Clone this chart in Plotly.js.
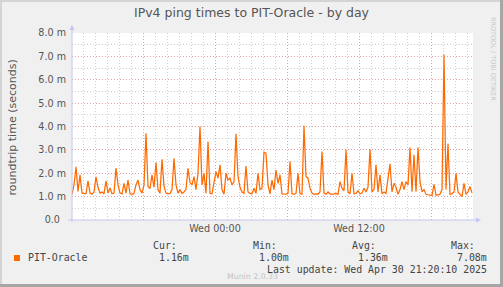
<!DOCTYPE html>
<html>
<head>
<meta charset="utf-8">
<script src="https://cdn.plot.ly/plotly-3.0.1.min.js"></script>
<style>
  html, body { margin: 0; padding: 0; background: #f0f0f0; }
  #wrap { position: relative; width: 503px; height: 287px; overflow: hidden; }
  #chart { width: 503px; height: 287px; }
  .edge { position: absolute; pointer-events: none; }
</style>
</head>
<body>
<div id="wrap">
  <div id="chart"></div>
  <div class="edge" style="left:0;top:0;width:503px;height:2px;background:#d4d4d4;"></div>
  <div class="edge" style="left:0;top:0;width:2px;height:287px;background:#d4d4d4;"></div>
  <div class="edge" style="right:0;top:0;width:3px;height:287px;background:#a6a6a6;"></div>
  <div class="edge" style="left:0;bottom:0;width:503px;height:3px;background:#a6a6a6;"></div>
</div>
<script>
// ---- data (hours relative to Wed 00:00, values in milliseconds) ----
const seriesName = "PIT-Oracle";
const sampleStartHour = -11.917;
const sampleStepHours = 1 / 6;
const pingMs = [
  1.10, 1.50, 2.28, 1.22, 1.93, 1.15, 1.14, 1.12, 1.67, 1.15,
  1.10, 1.20, 1.85, 1.40, 1.15, 1.20, 1.12, 1.67, 1.15, 1.37,
  1.12, 1.15, 2.22, 1.50, 1.15, 1.12, 1.57, 1.15, 1.71, 1.12,
  1.10, 1.14, 1.50, 1.71, 1.30, 1.15, 1.50, 3.71, 1.43, 1.35,
  1.93, 1.40, 2.46, 1.30, 1.15, 2.60, 1.45, 1.15, 1.12, 1.14,
  1.30, 2.64, 1.50, 1.15, 1.30, 1.14, 1.20, 1.30, 2.21, 1.60,
  1.50, 1.86, 1.30, 2.00, 4.00, 1.50, 2.00, 1.14, 3.36, 1.14,
  1.12, 1.64, 2.07, 1.79, 2.36, 1.30, 1.10, 2.00, 1.71, 1.79,
  1.50, 1.64, 3.69, 1.86, 1.40, 1.20, 1.15, 2.31, 1.20, 1.14,
  1.12, 1.36, 1.14, 2.00, 1.30, 1.36, 2.90, 2.86, 1.50, 1.12,
  1.71, 1.30, 2.14, 1.57, 1.93, 1.12, 1.10, 1.11, 1.14, 2.50,
  1.12, 1.10, 1.14, 2.00, 1.12, 1.10, 4.03, 1.86, 1.79, 1.36,
  1.15, 1.10, 1.12, 1.11, 1.20, 2.93, 1.15, 1.10, 1.20, 1.12,
  1.10, 1.11, 1.14, 1.10, 1.64, 1.36, 1.25, 3.00, 1.20, 1.12,
  2.00, 1.12, 1.14, 1.25, 1.12, 1.15, 1.36, 1.20, 1.40, 3.03,
  1.20, 1.30, 2.36, 1.20, 1.93, 1.12, 1.20, 1.14, 1.79, 2.40,
  1.20, 1.57, 1.40, 1.10, 1.30, 1.64, 1.30, 1.64, 1.50, 3.10,
  1.21, 2.79, 1.21, 3.10, 1.64, 1.21, 1.30, 1.10, 1.08, 1.07,
  1.05, 1.53, 1.07, 1.08, 1.10, 1.30, 7.08, 1.30, 3.26, 1.10,
  1.12, 1.20, 2.00, 1.20, 1.12, 1.00, 1.57, 1.10, 1.20, 1.43,
  1.16
];
const sampleHours = pingMs.map((_, i) => sampleStartHour + i * sampleStepHours);

const xTickHours = [-6, 0, 6, 12, 18];
const xTickLabels = ["", "Wed 00:00", "", "Wed 12:00", ""];
const yTickValues = [0, 1, 2, 3, 4, 5, 6, 7, 8];
const yTickLabels = ["0.0\u00a0\u00a0", "1.0 m", "2.0 m", "3.0 m", "4.0 m", "5.0 m", "6.0 m", "7.0 m", "8.0 m"];
const statHeaders = ["Cur:", "Min:", "Avg:", "Max:"];
const statValues = ["1.16m", "1.00m", "1.36m", "7.08m"];
const lastUpdate = "Last update: Wed Apr 30 21:20:10 2025";

// ---- layout helpers (pixel -> paper) ----
const PL = 72, PR = 473, PT = 33, PB = 220;
const px = X => (X - PL) / (PR - PL);
const py = Y => (PB - Y) / (PB - PT);

const lineColor = "#ff6a00";
const mono = "DejaVu Sans Mono";
const sans = "DejaVu Sans";
const txt = "#555555";
const axisCol = "#c4c4f0";

const headerRight = [178, 277.7, 376.7, 475.7];
const valueRight = [190, 290, 389.3, 488.3];

const annotations = [];
statHeaders.forEach((h, i) => annotations.push({
  text: h, xref: "paper", yref: "paper", x: px(headerRight[i]), y: py(245),
  xanchor: "right", yanchor: "middle", showarrow: false,
  font: {family: mono, size: 9.9, color: "#444"}, borderpad: 0
}));
statValues.forEach((v, i) => annotations.push({
  text: v, xref: "paper", yref: "paper", x: px(valueRight[i]), y: py(257.3),
  xanchor: "right", yanchor: "middle", showarrow: false,
  font: {family: mono, size: 9.9, color: "#444"}, borderpad: 0
}));
annotations.push({
  text: seriesName, xref: "paper", yref: "paper", x: px(26.5), y: py(257.3),
  xanchor: "left", yanchor: "middle", showarrow: false,
  font: {family: mono, size: 9.9, color: "#444"}, borderpad: 0
});
annotations.push({
  text: lastUpdate, xref: "paper", yref: "paper", x: px(488.3), y: py(269),
  xanchor: "right", yanchor: "middle", showarrow: false,
  font: {family: mono, size: 9.9, color: "#444"}, borderpad: 0
});
annotations.push({
  text: "Munin 2.0.33", xref: "paper", yref: "paper", x: px(252), y: py(276),
  xanchor: "center", yanchor: "middle", showarrow: false,
  font: {family: sans, size: 7.8, color: "#c4c4c4"}, borderpad: 0
});
annotations.push({
  text: "RRDTOOL / TOBI OETIKER", xref: "paper", yref: "paper", x: px(493), y: py(59),
  xanchor: "center", yanchor: "middle", showarrow: false, textangle: 90,
  font: {family: sans, size: 6.5, color: "#c8c8c8"}, borderpad: 0
});
annotations.push({
  text: "roundtrip time (seconds)", xref: "paper", yref: "paper", x: px(11.5), y: py(127),
  xanchor: "center", yanchor: "middle", showarrow: false, textangle: -90,
  font: {family: sans, size: 11, color: txt}, borderpad: 0
});

const shapes = [
  // legend swatch
  {type: "rect", xref: "paper", yref: "paper", x0: px(14), x1: px(20), y0: py(261), y1: py(255),
   fillcolor: lineColor, line: {width: 0}},
  // axis lines
  {type: "line", xref: "paper", yref: "paper", x0: px(72), x1: px(72), y0: py(222), y1: py(29),
   line: {color: axisCol, width: 1}, layer: "above"},
  {type: "line", xref: "paper", yref: "paper", x0: px(68), x1: px(477), y0: py(220), y1: py(220),
   line: {color: axisCol, width: 1}, layer: "above"},
  // arrows
  {type: "path", xref: "paper", yref: "paper",
   path: `M ${px(69.5)} ${py(30)} L ${px(74.5)} ${py(30)} L ${px(72)} ${py(25)} Z`,
   fillcolor: axisCol, line: {width: 0}, layer: "above"},
  {type: "path", xref: "paper", yref: "paper",
   path: `M ${px(476)} ${py(217.5)} L ${px(476)} ${py(222.5)} L ${px(481)} ${py(220)} Z`,
   fillcolor: axisCol, line: {width: 0}, layer: "above"}
];

const trace = {
  x: sampleHours, y: pingMs, type: "scatter", mode: "lines", name: seriesName,
  line: {color: lineColor, width: 1.25}, hoverinfo: "skip"
};

const layout = {
  width: 503, height: 287,
  margin: {l: PL, r: 503 - PR, t: PT, b: 287 - PB, pad: 0},
  paper_bgcolor: "#f0f0f0", plot_bgcolor: "#ffffff",
  showlegend: false,
  title: {
    text: "IPv4 ping times to PIT-Oracle - by day",
    font: {family: sans, size: 12.5, color: txt},
    x: 0.5, xref: "container", xanchor: "center",
    y: 1 - 13 / 287, yref: "container", yanchor: "middle"
  },
  xaxis: {
    range: [(PL - 215) / 12, (PR - 215) / 12],
    tickmode: "array", tickvals: xTickHours, ticktext: xTickLabels,
    showgrid: true, gridcolor: "#e6a0a0", gridwidth: 1, griddash: "1px,2px",
    minor: {tickmode: "linear", tick0: 0, dtick: 1, showgrid: true, gridcolor: "#cfcfcf", gridwidth: 1, griddash: "1px,2px", ticks: ""},
    zeroline: false, showline: false, ticks: "",
    tickfont: {family: sans, size: 9.6, color: txt},
    ticklabelstandoff: 1,
    fixedrange: true
  },
  yaxis: {
    range: [0, 8],
    tickmode: "array", tickvals: yTickValues, ticktext: yTickLabels,
    showgrid: true, gridcolor: "#e6a0a0", gridwidth: 1, griddash: "1px,2px",
    minor: {tickmode: "linear", tick0: 0, dtick: 0.5, showgrid: true, gridcolor: "#cfcfcf", gridwidth: 1, griddash: "1px,2px", ticks: ""},
    zeroline: false, showline: false, ticks: "",
    tickfont: {family: sans, size: 9.6, color: txt},
    ticklabelstandoff: 5,
    fixedrange: true
  },
  annotations: annotations,
  shapes: shapes
};

Plotly.newPlot("chart", [trace], layout, {displayModeBar: false, staticPlot: true});
</script>
</body>
</html>
